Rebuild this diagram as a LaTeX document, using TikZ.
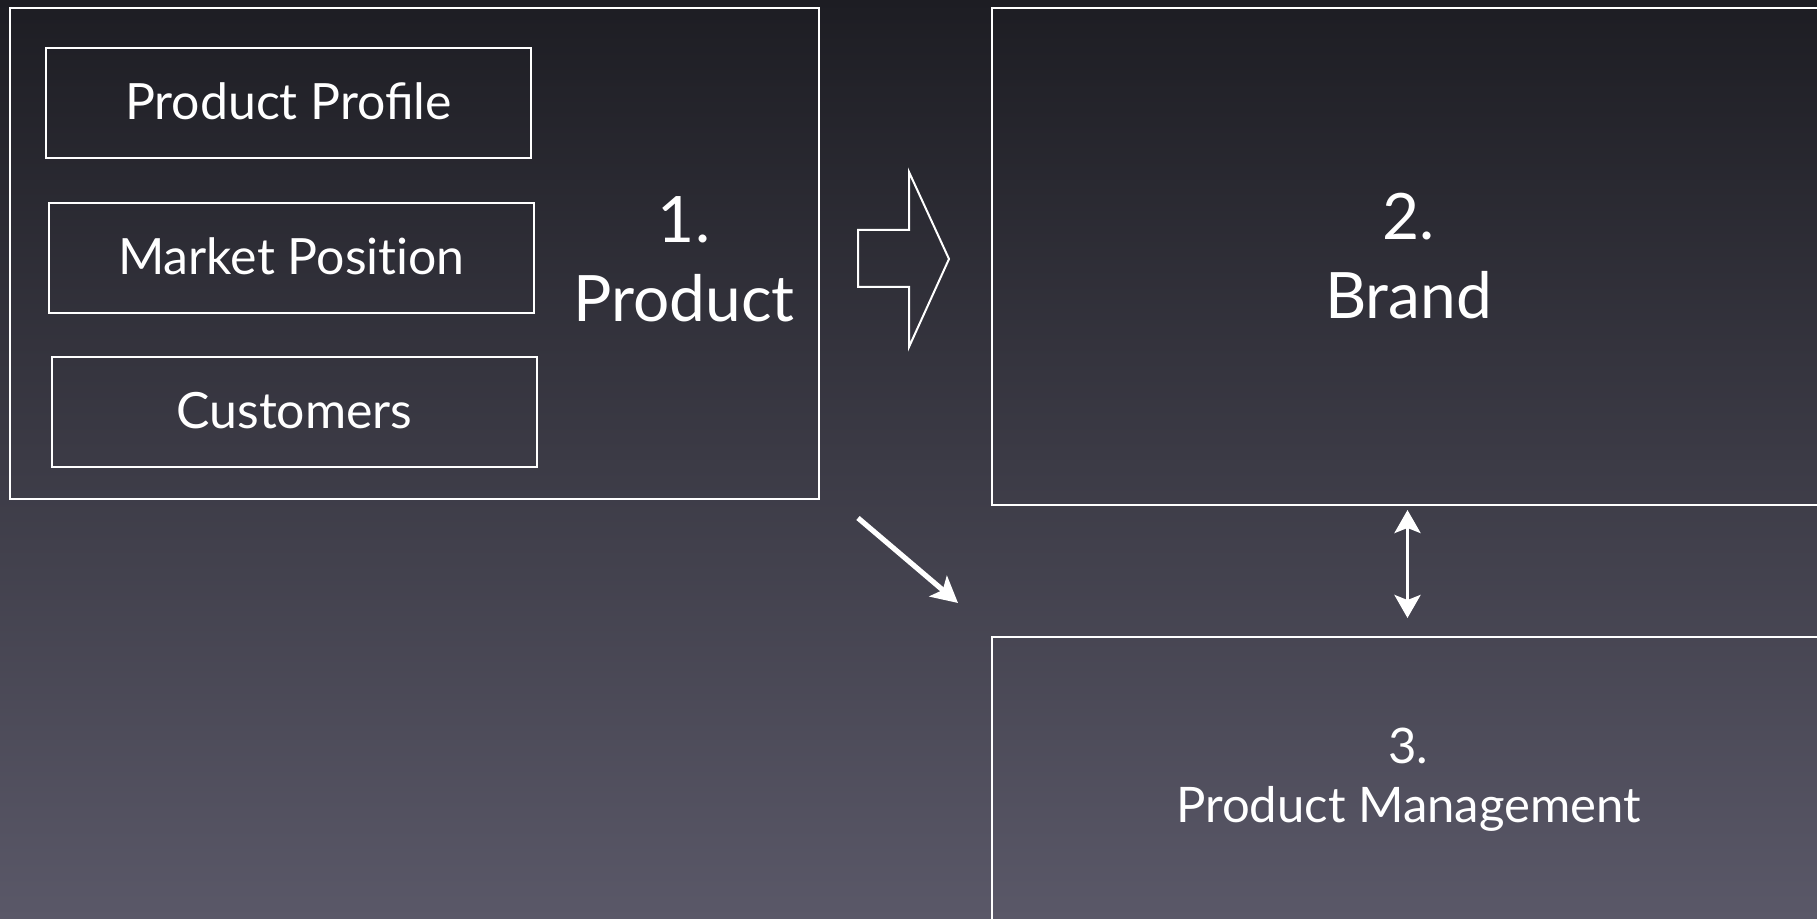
\documentclass[tikz,border=0pt]{standalone}
\usepackage{fontspec}
\setmainfont{Lato}
\usetikzlibrary{arrows.meta}
\definecolor{bgtop}{RGB}{29,29,35}
\definecolor{bgbot}{RGB}{90,88,104}
\begin{document}
\begin{tikzpicture}[x=0.5pt,y=-0.5pt,
  bigbox/.style={draw=white,line width=1pt,inner sep=0pt,outer sep=0pt,text=white,align=center},
  subbox/.style={draw=white,line width=1pt,inner sep=0pt,outer sep=0pt,text=white,
    minimum width=242.5pt,minimum height=55pt,font=\fontsize{25}{30}\selectfont},
  label/.style={text=white,align=center,inner sep=0pt},
  thinarrow/.style={draw=white,line width=1.7pt}
]
\shade[top color=bgtop,bottom color=bgbot] (0,0) rectangle (1817,919);
\useasboundingbox (0,0) rectangle (1817,919);
% box 1
\node[bigbox,minimum width=404.5pt,minimum height=245.5pt] (b1) at (414.5,253.5) {};
\node[subbox] (pp) at (288.5,103) {\raisebox{1.5pt}{Product Profile}};
\node[subbox] (mp) at (291.5,258) {\raisebox{1.5pt}{Market Posit\kern0pt ion}};
\node[subbox] (cu) at (294.5,412) {\raisebox{1.5pt}{Customers}};
\node[label,font=\fontsize{32}{39.5}\selectfont] (t1) at (684,259) {1.\\Product};
% box 2
\node[bigbox,minimum width=416.5pt,minimum height=248.5pt,font=\fontsize{32}{39.5}\selectfont] (b2) at (1408.5,256.5) {2.\\Brand};
% box 3
\node[bigbox,minimum width=416.5pt,minimum height=143pt,font=\fontsize{24.5}{29.5}\selectfont] (b3) at (1408.5,780) {3.\\Product Management};
% hollow arrow
\draw[white,line width=1pt,line join=miter]
  (858,230) -- (909,230) -- (909,172) -- (949,259) -- (909,347) -- (909,287) -- (858,287) -- cycle;
% diagonal arrow
\coordinate (d1) at (858,518);
\coordinate (d2) at (958,603);
\draw[thinarrow,line width=2.6pt,-{Stealth[length=13pt,width=13.5pt,inset=3pt]}] (d1) -- (d2);
% double arrow
\draw[thinarrow,{Stealth[length=11.5pt,width=13pt,inset=2.5pt]}-{Stealth[length=11.5pt,width=13pt,inset=2.5pt]},shorten <=2.5pt,shorten >=9.5pt] ([xshift=-0.5pt]b2.south) -- ([xshift=-0.5pt]b3.north);
\end{tikzpicture}
\end{document}
